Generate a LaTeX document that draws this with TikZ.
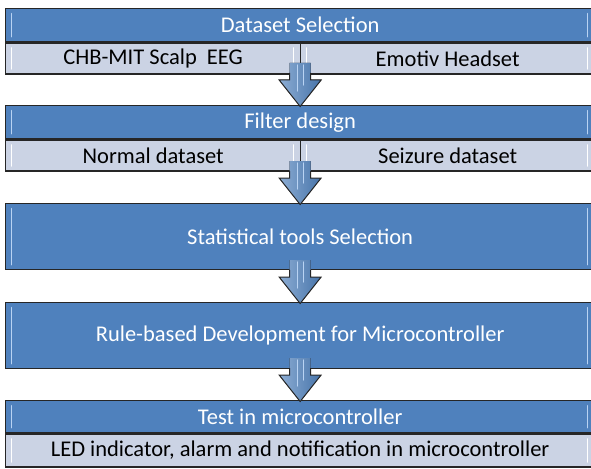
\documentclass[tikz,border=0pt]{standalone}
\usepackage{fontspec}
\setmainfont{Carlito}
\usetikzlibrary{positioning}

\definecolor{headblue}{HTML}{4F81BD}
\definecolor{rowgray}{HTML}{CBD3E4}
\definecolor{edgegray}{HTML}{262626}
\definecolor{glossblue}{HTML}{B9D3F3}

\tikzset{
    gloss/.style={path picture={
        \draw[#1, line width=1.6pt, line cap=round]
            ([xshift=6pt,yshift=-5pt]path picture bounding box.north west) --
            ([xshift=6pt,yshift=5pt]path picture bounding box.south west)
            ([xshift=-7pt,yshift=-5pt]path picture bounding box.north east) --
            ([xshift=-7pt,yshift=5pt]path picture bounding box.south east);}},
    head/.style={draw=edgegray, line width=1.3pt, fill=headblue, text=white,
        minimum width=589pt, inner sep=0pt, gloss=glossblue,
        font=\fontsize{22.5}{26}\selectfont},
    subrow/.style={draw=edgegray, line width=1.3pt, fill=rowgray, text=black,
        minimum height=31pt, inner sep=0pt, gloss=white,
        font=\fontsize{22.5}{26}\selectfont},
    arrowfill/.style={left color=headblue!65!white, middle color=headblue!80!white,
        right color=headblue!90!black},
    arrowline/.style={draw=edgegray, line width=1pt, line join=miter}
}

% block arrow whose tip sits on the given node's north anchor
\newcommand{\stagearrow}[1]{%
    \fill[arrowfill]
        ([xshift=-10.5pt,yshift=42pt]#1.north) -- ([xshift=-10.5pt,yshift=25pt]#1.north) --
        ([xshift=-21pt,yshift=25pt]#1.north) -- ([yshift=-1.5pt]#1.north) --
        ([xshift=21pt,yshift=25pt]#1.north) -- ([xshift=10.5pt,yshift=25pt]#1.north) --
        ([xshift=10.5pt,yshift=42pt]#1.north) -- cycle;
    \draw[arrowline]
        ([xshift=-10.5pt,yshift=32pt]#1.north) -- ([xshift=-10.5pt,yshift=25pt]#1.north) --
        ([xshift=-21pt,yshift=25pt]#1.north) -- ([yshift=-1.5pt]#1.north) --
        ([xshift=21pt,yshift=25pt]#1.north) -- ([xshift=10.5pt,yshift=25pt]#1.north) --
        ([xshift=10.5pt,yshift=32pt]#1.north);
    \draw[glossblue, line width=1.1pt, line cap=round]
        ([xshift=-3pt,yshift=40pt]#1.north) -- ([xshift=-3pt,yshift=14pt]#1.north)
        ([xshift=3pt,yshift=40pt]#1.north) -- ([xshift=3pt,yshift=20pt]#1.north);
}

\begin{document}
\begin{tikzpicture}[x=1pt, y=-1pt]
    \useasboundingbox (0,0) rectangle (591,468);

    % Dataset selection
    \node[head, minimum height=33pt, anchor=north west] (h1) at (5,8) {Dataset Selection};
    \node[subrow, minimum width=295pt, anchor=north west] (s1l) at (h1.south west) {CHB-MIT Scalp\ \ EEG};
    \node[subrow, minimum width=294pt, anchor=north east] (s1r) at (h1.south east) {Emotiv Headset};

    % Filter design
    \node[head, minimum height=33pt, anchor=north west] (h2) at (5,105) {Filter design};
    \node[subrow, minimum width=295pt, anchor=north west] (s2l) at (h2.south west) {Normal dataset};
    \node[subrow, minimum width=294pt, anchor=north east] (s2r) at (h2.south east) {Seizure dataset};

    % Single boxes
    \node[head, minimum height=66pt, anchor=north west] (h3) at (5,203) {Statistical tools Selection};
    \node[head, minimum height=66pt, anchor=north west] (h4) at (5,302) {Rule-based Development for Microcontroller};

    % Test stage
    \node[head, minimum height=32pt, anchor=north west] (h5) at (5,400) {Test in microcontroller};
    \node[subrow, minimum width=589pt, minimum height=33pt, anchor=north west] (s5) at (h5.south west) {LED indicator, alarm and notification in microcontroller};

    % Arrows between stages
    \foreach \to in {h2,h3,h4,h5} {
        \stagearrow{\to}
    }
\end{tikzpicture}
\end{document}
